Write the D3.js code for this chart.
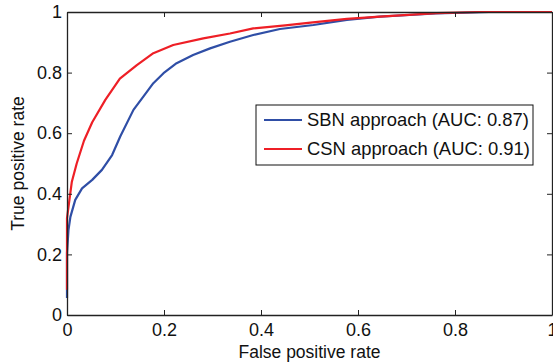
<!DOCTYPE html>
<html>
<head>
<meta charset="utf-8">
<script src="https://cdn.jsdelivr.net/npm/d3@7"></script>
<style>
  body { margin: 0; background: #fff; }
  svg { display: block; font-family: "Liberation Sans", Arial, sans-serif; }
</style>
</head>
<body>
<div id="chart"></div>
<script>
// ROC curves
const sbnFpr = [0, 0, 0.003, 0.007, 0.017, 0.031, 0.052, 0.072, 0.093, 0.11, 0.137, 0.157, 0.178, 0.199, 0.226, 0.26, 0.295, 0.336, 0.384, 0.439, 0.508, 0.577, 0.645, 0.76, 0.87, 1];
const sbnTpr = [0.056, 0.205, 0.28, 0.324, 0.38, 0.418, 0.446, 0.479, 0.528, 0.59, 0.677, 0.72, 0.765, 0.798, 0.831, 0.858, 0.88, 0.902, 0.924, 0.944, 0.957, 0.974, 0.985, 0.995, 1, 1];

const csnFpr = [0, 0, 0.005, 0.01, 0.02, 0.035, 0.052, 0.079, 0.109, 0.144, 0.178, 0.219, 0.281, 0.336, 0.384, 0.45, 0.507, 0.577, 0.645, 0.762, 0.85, 1];
const csnTpr = [0.083, 0.32, 0.38, 0.44, 0.5, 0.575, 0.636, 0.71, 0.78, 0.825, 0.864, 0.891, 0.913, 0.929, 0.946, 0.956, 0.966, 0.977, 0.985, 0.996, 1, 1];

const tickVals = [0, 0.2, 0.4, 0.6, 0.8, 1];
const legendLabels = ["SBN approach (AUC: 0.87)", "CSN approach (AUC: 0.91)"];
const colors = ["#2f4ea6", "#ee1f26"];

const width = 553, height = 363;
const svg = d3.select("#chart").append("svg")
  .attr("width", width)
  .attr("height", height);

const x = d3.scaleLinear().domain([0, 1]).range([67, 552]);
const y = d3.scaleLinear().domain([0, 1]).range([315, 12]);
const fmt = d3.format("~g");

// curves (blue first, red over it)
const line = d3.line().x(d => x(d[0])).y(d => y(d[1]));
const series = [
  d3.zip(sbnFpr, sbnTpr),
  d3.zip(csnFpr, csnTpr)
];
svg.selectAll(".curve")
  .data(series)
  .join("path")
  .attr("class", "curve")
  .attr("d", line)
  .attr("fill", "none")
  .attr("stroke", (d, i) => colors[i])
  .attr("stroke-width", 2.2)
  .attr("stroke-linejoin", "round");

// axes - matlab style box with inward ticks
function styleAxis(g) {
  g.selectAll(".domain").attr("stroke", "#222").attr("stroke-width", 1.3);
  g.selectAll(".tick line").attr("stroke", "#222");
  g.selectAll(".tick text").attr("fill", "#111").attr("font-size", 18);
}

svg.append("g")
  .attr("transform", `translate(0,${y(0)})`)
  .call(d3.axisBottom(x).tickValues(tickVals).tickFormat(fmt).tickSize(-5).tickSizeOuter(0).tickPadding(8))
  .call(styleAxis);

svg.append("g")
  .attr("transform", `translate(${x(0)},0)`)
  .call(d3.axisLeft(y).tickValues(tickVals).tickFormat(fmt).tickSize(-5).tickSizeOuter(0).tickPadding(5))
  .call(styleAxis);

svg.append("g")
  .attr("transform", `translate(0,${y(1)})`)
  .call(d3.axisTop(x).tickValues(tickVals).tickFormat("").tickSize(-5).tickSizeOuter(0))
  .call(styleAxis);

svg.append("g")
  .attr("transform", `translate(${x(1)},0)`)
  .call(d3.axisRight(y).tickValues(tickVals).tickFormat("").tickSize(-5).tickSizeOuter(0))
  .call(styleAxis);

// axis titles
svg.append("text")
  .attr("x", (x(0) + x(1)) / 2)
  .attr("y", 358)
  .attr("text-anchor", "middle")
  .attr("font-size", 17.5)
  .attr("fill", "#111")
  .text("False positive rate");

svg.append("text")
  .attr("transform", `translate(24,${(y(0) + y(1)) / 2}) rotate(-90)`)
  .attr("text-anchor", "middle")
  .attr("font-size", 17.5)
  .attr("fill", "#111")
  .text("True positive rate");

// legend
const legend = svg.append("g").attr("transform", "translate(256,105)");
legend.append("rect")
  .attr("width", 277)
  .attr("height", 60)
  .attr("fill", "#fff")
  .attr("stroke", "#111")
  .attr("stroke-width", 1);

const items = legend.selectAll(".item")
  .data(legendLabels)
  .join("g")
  .attr("class", "item")
  .attr("transform", (d, i) => `translate(0,${15 + i * 29})`);

items.append("line")
  .attr("x1", 8).attr("x2", 46)
  .attr("stroke", (d, i) => colors[i])
  .attr("stroke-width", 2.2);

items.append("text")
  .attr("x", 51)
  .attr("dy", "0.35em")
  .attr("font-size", 18.4)
  .attr("fill", "#111")
  .text(d => d);
</script>
</body>
</html>
